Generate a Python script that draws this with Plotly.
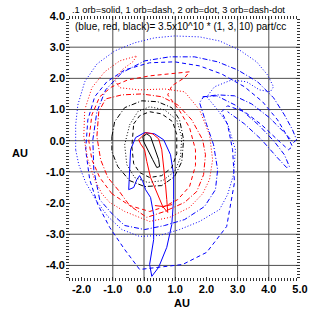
import plotly.graph_objects as go

# ---- axis ticks / grid ----
x_ticks = [-2, -1, 0, 1, 2, 3, 4, 5]
y_ticks = [-4, -3, -2, -1, 0, 1, 2, 3, 4]
x_grid = [-1, 0, 1, 3, 4]
y_grid = [-4, -3, -1, 0, 1, 2, 3]

# ---- blue (1x density) contours ----
blue_solid_x = [-0.49, -0.46, -0.43, -0.27, 0.02, 0.34, 0.63, 0.85, 0.95, 0.95, 0.89, 0.73, 0.47, 0.25, 0.18, 0.31, 0.31, 0.21, 0.05, -0.04, -0.14, -0.23, -0.33, -0.49]
blue_solid_y = [-1.57, -0.93, -0.29, 0.10, 0.26, 0.22, 0.03, -0.45, -1.09, -1.89, -2.69, -3.42, -4.06, -4.35, -3.97, -3.17, -2.37, -1.82, -1.57, -1.31, -1.12, -1.25, -1.50, -1.57]

blue_dash_x = [-0.14, -0.62, -1.10, -1.48, -1.74, -1.87, -1.80, -1.58, -1.19, -0.62, 0.18, 0.98, 1.78, 2.49, 3.22, 3.80, 4.28, 4.60, 4.76, 4.63, 4.28, 3.77, 3.22, 2.68, 2.49, 2.68, 2.84, 2.90, 2.65, 2.01, 1.24, 0.50, -0.14]
blue_dash_y = [-4.13, -3.49, -2.78, -2.05, -1.25, -0.29, 0.67, 1.41, 1.89, 2.27, 2.50, 2.53, 2.40, 2.14, 1.73, 1.25, 0.67, 0.13, -0.19, -0.29, 0.03, 0.51, 0.93, 1.12, 0.93, 0.51, -0.29, -1.34, -2.75, -3.58, -3.97, -4.06, -4.13]

blue_dot_x = [-2.19, -2.19, -2.12, -1.90, -1.51, -0.94, -0.30, 0.34, 0.98, 1.78, 2.42, 3.06, 3.61, 3.96, 4.15, 4.05, 3.70, 3.29, 2.81, 2.26, 2.01, 2.36, 2.68, 2.93, 2.87, 2.68, 2.42, 1.78, 1.14, 0.50, -0.14, -0.71, -1.16, -1.55, -1.87, -2.09, -2.19]
blue_dot_y = [-0.29, 0.51, 1.15, 1.89, 2.46, 2.88, 3.14, 3.30, 3.36, 3.33, 3.20, 2.91, 2.53, 2.11, 1.73, 1.57, 1.63, 1.89, 1.95, 1.73, 1.41, 0.99, 0.54, -0.29, -1.09, -1.73, -2.21, -2.59, -2.85, -3.04, -3.07, -2.85, -2.43, -1.89, -1.34, -0.77, -0.29]

blue_dashdot_x = [-1.42, -1.61, -1.64, -1.51, -1.23, -0.71, 0.02, 0.82, 1.62, 2.36, 3.00, 3.64, 4.15, 4.50, 4.76, 4.89, 4.79, 4.50, 4.02, 3.45, 2.90, 2.36, 1.91, 1.78, 2.01, 2.23, 2.36, 2.29, 1.94, 1.30, 0.66, 0.02, -0.62, -1.00, -1.42,
                  None, 1.88, 2.33, 2.97, 3.70, 4.18, 4.50, 4.66, 4.57, 4.28, 3.77, 3.22, 2.68]
blue_dashdot_y = [-1.89, -0.93, 0.03, 0.93, 1.63, 2.18, 2.56, 2.69, 2.69, 2.53, 2.27, 1.89, 1.38, 0.83, 0.35, 0.03, -0.06, 0.26, 0.74, 1.18, 1.44, 1.47, 1.41, 1.22, 0.51, -0.13, -0.93, -1.57, -2.11, -2.53, -2.72, -2.85, -2.72, -2.37, -1.89,
                  None, 1.41, 1.44, 1.12, 0.48, -0.03, -0.45, -0.83, -0.86, -0.55, 0.03, 0.54, 0.93]

# ---- red (3x density) contours ----
red_solid_x = [-0.07, 0.05, 0.28, 0.47, 0.57, 0.63, 0.69, 0.73, 0.76, 0.60, 0.41, 0.21, 0.09, 0.02, -0.11, -0.17, -0.07, None, 0.35, 0.60, 0.90]
red_solid_y = [0.13, 0.26, 0.22, 0.06, -0.29, -0.77, -1.41, -1.89, -2.30, -2.11, -1.66, -1.18, -0.67, -0.29, -0.10, 0.03, 0.13, None, -2.08, -2.11, -2.05]

red_dash_x = [-1.03, -1.42, -1.67, -1.77, -1.67, -1.42, -1.03, -0.52, 0.18, 0.82, 1.46, 1.30, 0.89, 0.76, 1.14, 1.46, 1.65, 1.65, 1.46, 1.08, 0.60, 0.18, -0.46, -1.03]
red_dash_y = [-1.70, -1.18, -0.61, 0.00, 0.83, 1.41, 1.73, 1.95, 2.08, 2.14, 2.21, 2.02, 1.76, 1.47, 0.96, 0.42, -0.29, -0.80, -1.47, -1.89, -2.14, -2.27, -2.08, -1.70]

red_dot_x = [-1.35, -1.58, -1.80, -1.93, -1.90, -1.67, -1.26, -0.78, -0.23, -0.36, -0.71, -0.94, -0.78, -0.14, 0.66, 1.30, 1.78, 2.10, 2.20, 2.10, 1.88, 1.46, 0.82, 0.18, -0.62, -1.10, -1.35]
red_dot_y = [-1.70, -1.25, -0.61, 0.13, 0.99, 1.70, 2.21, 2.56, 2.72, 2.53, 2.27, 1.95, 1.70, 1.63, 1.66, 1.57, 0.99, 0.19, -0.61, -1.25, -1.70, -2.14, -2.46, -2.59, -2.27, -1.98, -1.70]

red_dashdot_x = [-0.81, -1.16, -1.39, -1.51, -1.45, -1.23, -0.71, -0.07, 0.57, 1.08, 1.53, 1.88, 1.97, 1.91, 1.69, 1.30, 0.66, 0.09, -0.46, -0.81]
red_dashdot_y = [-1.60, -1.18, -0.61, 0.13, 0.93, 1.34, 1.47, 1.50, 1.41, 1.15, 0.67, 0.03, -0.45, -1.09, -1.63, -1.98, -2.27, -2.46, -2.08, -1.60]

# ---- black (10x density) contours ----
black_solid_x = [-0.04, 0.09, 0.21, 0.34, 0.47, 0.50, 0.41, 0.28, 0.12, -0.01, -0.04]
black_solid_y = [0.13, 0.22, 0.13, -0.22, -0.61, -0.83, -0.86, -0.61, -0.29, -0.03, 0.13]

black_dash_x = [-0.33, -0.14, 0.18, 0.57, 0.92, 1.05, 1.05, 0.89, 0.57, 0.18, -0.14, -0.33, -0.39, -0.33]
black_dash_y = [0.54, 0.80, 0.93, 0.86, 0.61, 0.19, -0.42, -0.86, -1.12, -1.18, -1.02, -0.74, -0.19, 0.54]

black_dot_x = [-0.46, -0.20, 0.18, 0.66, 1.05, 1.21, 1.17, 0.98, 0.60, 0.12, -0.30, -0.55, -0.62, -0.46]
black_dot_y = [0.51, 0.93, 1.09, 0.99, 0.67, 0.10, -0.54, -0.99, -1.28, -1.34, -1.18, -0.77, -0.13, 0.51]

black_dashdot_x = [-1.03, -0.94, -0.62, -0.07, 0.44, 0.89, 1.14, 1.27, 1.21, 0.98, 0.57, 0.02, -0.46, -0.84, -1.03, -1.03]
black_dashdot_y = [0.13, 0.61, 1.06, 1.28, 1.25, 1.06, 0.67, 0.03, -0.67, -1.15, -1.44, -1.47, -1.28, -0.83, -0.35, 0.13]

DASH = "4px,3px"
DOT = "1px,2px"
DASHDOT = "5px,2px,1px,2px"

series = [
    (blue_dot_x, blue_dot_y, "#0000ff", DOT),
    (blue_dashdot_x, blue_dashdot_y, "#0000ff", DASHDOT),
    (blue_dash_x, blue_dash_y, "#0000ff", DASH),
    (blue_solid_x, blue_solid_y, "#0000ff", "solid"),
    (red_dot_x, red_dot_y, "#ff0000", DOT),
    (red_dashdot_x, red_dashdot_y, "#ff0000", DASHDOT),
    (red_dash_x, red_dash_y, "#ff0000", DASH),
    (red_solid_x, red_solid_y, "#ff0000", "solid"),
    (black_dot_x, black_dot_y, "#000000", DOT),
    (black_dashdot_x, black_dashdot_y, "#000000", DASHDOT),
    (black_dash_x, black_dash_y, "#000000", DASH),
    (black_solid_x, black_solid_y, "#000000", "solid"),
]

fig = go.Figure()
for xs, ys, col, dash in series:
    fig.add_trace(go.Scatter(x=xs, y=ys, mode="lines", connectgaps=False,
                             line=dict(color=col, width=1, dash=dash),
                             showlegend=False, hoverinfo="skip"))

shapes = []
for gx in x_grid:
    shapes.append(dict(type="line", xref="x", yref="y", x0=gx, x1=gx, y0=-4.5, y1=4.0,
                       line=dict(color="#505050", width=1), layer="below"))
for gy in y_grid:
    shapes.append(dict(type="line", xref="x", yref="y", x0=-2.5, x1=5.0, y0=gy, y1=gy,
                       line=dict(color="#505050", width=1), layer="below"))

FONT = "Liberation Sans, Arial, sans-serif"
tickfont = dict(family=FONT, size=11, color="black")
fig.update_layout(
    width=332, height=331,
    margin=dict(l=66, r=32, t=16, b=50, autoexpand=False),
    paper_bgcolor="white", plot_bgcolor="white",
    shapes=shapes,
    xaxis=dict(range=[-2.5, 5.0001], tickvals=x_ticks, automargin=False,
               ticktext=["<b>%.1f</b>" % v for v in x_ticks],
               showgrid=False, zeroline=False, showline=False,
               ticks="inside", ticklen=4, tickcolor="#333", mirror="ticks",
               minor=dict(dtick=0.1, ticks="inside", ticklen=3, tickcolor="#333"),
               tickfont=tickfont),
    yaxis=dict(range=[-4.5, 4.0001], tickvals=y_ticks, automargin=False,
               ticktext=["<b>%.1f</b>" % v for v in y_ticks],
               showgrid=False, zeroline=False, showline=False,
               ticks="inside", ticklen=4, tickcolor="#333", mirror="ticks",
               minor=dict(dtick=0.1, ticks="inside", ticklen=3, tickcolor="#333"),
               tickfont=tickfont),
    annotations=[
        dict(text=".1 orb=solid, 1 orb=dash, 2 orb=dot, 3 orb=dash-dot", xref="paper", yref="paper",
             x=0.017, y=1.023, xanchor="left", yanchor="middle", showarrow=False,
             font=dict(family=FONT, size=9.3, color="black")),
        dict(text="(blue, red, black)= 3.5x10^10 * (1, 3, 10) part/cc", xref="paper", yref="paper",
             x=0.03, y=0.962, xanchor="left", yanchor="middle", showarrow=False,
             font=dict(family=FONT, size=10, color="black")),
        dict(text="<b>AU</b>", xref="paper", yref="paper", x=0.496, y=-0.083,
             xanchor="center", yanchor="middle", showarrow=False, font=tickfont),
        dict(text="<b>AU</b>", xref="paper", yref="paper", x=-0.197, y=0.483,
             xanchor="center", yanchor="middle", showarrow=False, font=tickfont),
    ],
)

fig.write_html("out.html",
               config={"displayModeBar": False, "staticPlot": True},
               post_script="document.body.style.margin='0';document.body.style.overflow='hidden';")
